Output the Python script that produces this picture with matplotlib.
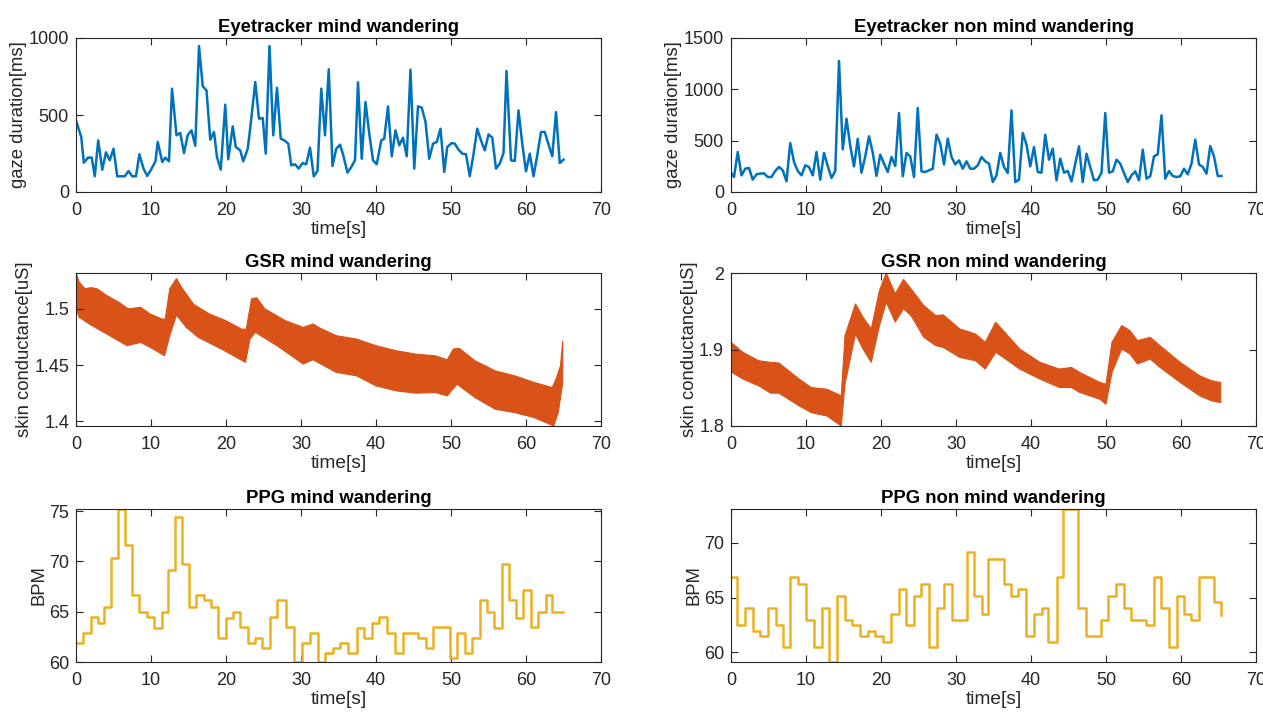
import numpy as np
import matplotlib
matplotlib.use("Agg")
import matplotlib.pyplot as plt
from matplotlib.ticker import FuncFormatter

plt.rcParams['font.family'] = ['Liberation Sans', 'DejaVu Sans']

# MATLAB default colours
blue = '#0072BD'
orange = '#D95319'
yellow = '#EDB120'
axcol = '#262626'

# ---- eyetracker, mind wandering
eye_mw_t = [0, 0.7, 1.05, 1.6, 2.1, 2.5, 2.96, 3.5, 4.0, 4.5,
            5.0, 5.5, 6.0, 6.5, 7.0, 7.5, 8.0, 8.45, 9.0, 9.5,
            10.0, 10.6, 10.9, 11.5, 11.9, 12.4, 12.8, 13.4, 13.9, 14.4,
            14.9, 15.4, 15.9, 16.4, 16.9, 17.4, 17.9, 18.4, 18.8, 19.3,
            19.9, 20.3, 20.9, 21.3, 21.9, 22.3, 22.9, 23.3, 23.9, 24.4,
            24.9, 25.3, 25.8, 26.3, 26.8, 27.3, 27.8, 28.3, 28.7, 29.2,
            29.7, 30.2, 30.7, 31.2, 31.7, 32.2, 32.7, 33.2, 33.7, 34.2,
            34.7, 35.2, 35.6, 36.2, 36.7, 37.2, 37.6, 38.1, 38.6, 39.1,
            39.6, 40.1, 40.7, 41.1, 41.6, 42.1, 42.6, 43.1, 43.6, 44.1,
            44.6, 45.1, 45.6, 46.1, 46.6, 47.1, 47.6, 48.1, 48.6, 49.1,
            49.5, 50.1, 50.5, 51.0, 51.5, 52.0, 52.5, 53.0, 53.5, 54.0,
            54.5, 55.0, 55.5, 56.0, 56.5, 57.0, 57.4, 58.0, 58.5, 59.0,
            59.5, 60.0, 60.5, 61.0, 61.5, 62.0, 62.5, 63.0, 63.5, 64.0,
            64.5, 65.0]
eye_mw = [465, 357, 190, 223, 223, 102, 335, 145, 258, 206,
          281, 102, 102, 102, 136, 102, 102, 245, 152, 104,
          145, 199, 325, 195, 223, 199, 671, 368, 383, 253,
          370, 400, 300, 948, 686, 660, 340, 390, 227, 145,
          567, 212, 426, 292, 270, 199, 281, 444, 714, 476,
          480, 249, 948, 368, 677, 346, 335, 314, 173, 180,
          152, 188, 180, 288, 102, 136, 671, 368, 797, 169,
          281, 307, 245, 126, 162, 206, 712, 216, 584, 379,
          206, 180, 335, 346, 556, 232, 400, 303, 353, 232,
          794, 152, 556, 548, 455, 216, 314, 325, 411, 130,
          292, 318, 314, 275, 249, 245, 102, 245, 411, 335,
          270, 374, 353, 152, 184, 253, 786, 206, 201, 530,
          314, 134, 249, 102, 238, 390, 390, 309, 232, 519,
          188, 210]

# ---- eyetracker, non mind wandering
eye_nmw_t = [0, 0.4, 0.9, 1.4, 1.9, 2.4, 2.9, 3.4, 3.9, 4.4,
             4.9, 5.4, 5.9, 6.4, 6.9, 7.4, 7.9, 8.4, 8.9, 9.4,
             9.9, 10.4, 10.9, 11.4, 11.9, 12.4, 12.9, 13.4, 13.9, 14.4,
             14.9, 15.4, 15.9, 16.4, 16.9, 17.4, 17.9, 18.4, 18.9, 19.4,
             19.9, 20.4, 20.9, 21.4, 21.9, 22.4, 22.9, 23.4, 23.9, 24.4,
             24.9, 25.4, 25.9, 26.4, 26.9, 27.4, 27.9, 28.4, 28.9, 29.4,
             29.9, 30.4, 30.9, 31.4, 31.9, 32.4, 32.9, 33.4, 33.9, 34.4,
             34.9, 35.4, 35.9, 36.4, 36.9, 37.4, 37.9, 38.4, 38.9, 39.4,
             39.9, 40.4, 40.9, 41.4, 41.9, 42.4, 42.9, 43.4, 43.9, 44.4,
             44.9, 45.4, 45.9, 46.4, 46.9, 47.4, 47.9, 48.4, 48.9, 49.4,
             49.9, 50.4, 50.9, 51.4, 51.9, 52.4, 52.9, 53.4, 53.9, 54.4,
             54.9, 55.4, 55.9, 56.4, 56.9, 57.4, 57.9, 58.4, 58.9, 59.4,
             59.9, 60.4, 60.9, 61.4, 61.9, 62.4, 62.9, 63.4, 63.9, 64.4,
             64.9, 65.4]
eye_nmw = [188, 146, 390, 162, 227, 234, 120, 172, 179, 182,
           146, 146, 205, 244, 211, 104, 477, 292, 205, 162,
           260, 244, 162, 390, 120, 380, 253, 136, 205, 1276,
           416, 714, 448, 250, 519, 188, 347, 542, 383, 156,
           364, 276, 195, 341, 253, 769, 153, 380, 347, 146,
           818, 201, 195, 211, 227, 558, 471, 269, 519, 341,
           269, 308, 227, 299, 227, 227, 260, 341, 299, 276,
           97, 162, 380, 244, 185, 795, 97, 120, 575, 461,
           250, 438, 195, 188, 558, 315, 422, 114, 325, 188,
           205, 104, 276, 445, 97, 373, 244, 114, 120, 188,
           769, 188, 201, 315, 276, 185, 97, 162, 201, 114,
           412, 130, 153, 347, 367, 747, 130, 205, 156, 146,
           153, 227, 172, 276, 510, 269, 244, 179, 448, 347,
           156, 156]

# ---- GSR, mind wandering (upper / lower envelope of the fast oscillation)
gsr_mw_up_t = [0, 0.42, 1.2, 2.0, 2.8, 4.1, 5.7, 7.0, 8.6, 9.9, 11.5, 11.9,
               12.5, 13.4, 14.1, 15.7, 17.8, 19.96, 22.1, 22.7, 23.4, 24.1,
               25.2, 27.9, 30.3, 31.6, 32.6, 34.7, 37.4, 40.0, 42.7, 45.3,
               47.9, 49.5, 50.3, 51.1, 53.2, 55.9, 58.5, 61.1, 63.5, 64.0,
               64.6, 64.9]
gsr_mw_up = [1.532, 1.524, 1.518, 1.519, 1.518, 1.512, 1.506, 1.500, 1.5015,
             1.4955, 1.491, 1.491, 1.518, 1.527, 1.519, 1.504, 1.4955, 1.4896,
             1.482, 1.482, 1.509, 1.510, 1.500, 1.4896, 1.4836, 1.4866, 1.4827,
             1.4762, 1.4732, 1.4673, 1.4628, 1.4598, 1.4583, 1.4548, 1.4643,
             1.4649, 1.4539, 1.4449, 1.4405, 1.4345, 1.4301, 1.4375, 1.4494,
             1.4717]
gsr_mw_lo_t = [0, 0.42, 2.0, 4.1, 6.8, 8.6, 9.9, 11.8, 12.5, 13.4, 14.7, 16.3,
               19.4, 22.6, 23.2, 23.9, 26.8, 30.3, 31.6, 34.7, 37.4, 40.0,
               42.7, 45.3, 47.9, 49.5, 50.8, 53.2, 55.9, 58.5, 61.1, 63.7,
               64.3, 64.9]
gsr_mw_lo = [1.500, 1.4926, 1.4857, 1.4777, 1.4673, 1.4702, 1.4658, 1.4583,
             1.4762, 1.4946, 1.4836, 1.4747, 1.4643, 1.4524, 1.4732, 1.4792,
             1.4673, 1.4509, 1.4548, 1.4435, 1.4405, 1.4315, 1.4271, 1.4250,
             1.4256, 1.4226, 1.4330, 1.4211, 1.4107, 1.4077, 1.4033, 1.3958,
             1.4077, 1.4345]

# ---- GSR, non mind wandering
gsr_nmw_t = [0, 1.6, 3.7, 5.3, 6.4, 9.1, 10.7, 12.8, 14.7, 15.2, 16.6, 17.6,
             18.7, 19.8, 20.7, 21.9, 23.0, 24.0, 25.7, 27.3, 28.3, 30.5, 32.6,
             33.9, 35.3, 36.3, 38.5, 41.2, 43.8, 45.4, 46.5, 49.2, 50.0, 50.8,
             52.1, 53.2, 54.2, 55.9, 57.2, 59.9, 62.5, 64.1, 65.3]
gsr_nmw_up = [1.9094, 1.8963, 1.8853, 1.8832, 1.8823, 1.8613, 1.8503, 1.8481,
              1.8394, 1.9182, 1.9597, 1.9422, 1.9269, 1.9772, 2.0, 1.9728,
              1.9917, 1.9794, 1.9575, 1.9444, 1.9453, 1.9269, 1.9203, 1.9094,
              1.9357, 1.9247, 1.9007, 1.8832, 1.8744, 1.8766, 1.8700, 1.8569,
              1.8547, 1.9094, 1.9313, 1.9247, 1.9116, 1.9160, 1.9050, 1.8832,
              1.8656, 1.8591, 1.8569]
gsr_nmw_lo = [1.8709, 1.8613, 1.8525, 1.8429, 1.8429, 1.8263, 1.8175, 1.8131,
              1.8000, 1.8547, 1.9203, 1.9007, 1.8832, 1.9313, 1.9619, 1.9357,
              1.9532, 1.9444, 1.9160, 1.9050, 1.9028, 1.8897, 1.8853, 1.8744,
              1.8963, 1.8897, 1.8744, 1.8613, 1.8503, 1.8503, 1.8438, 1.8350,
              1.8284, 1.8700, 1.9007, 1.8941, 1.8810, 1.8875, 1.8766, 1.8569,
              1.8394, 1.8328, 1.8306]

# ---- PPG heart rate (stairs)
ppg_mw_t = [0, 0.95, 2.0, 2.9, 3.75, 4.65, 5.55, 6.55, 7.45, 8.45,
            9.4, 10.35, 11.4, 12.3, 13.2, 14.15, 15.1, 16.0, 17.0, 17.95,
            18.9, 19.95, 20.9, 21.9, 22.95, 23.9, 24.85, 25.85, 26.8, 28.0,
            29.0, 30.1, 31.15, 32.25, 33.25, 34.2, 35.25, 36.3, 37.4, 38.45,
            39.4, 40.45, 41.45, 42.55, 43.55, 45.55, 46.6, 47.65, 49.8, 50.85,
            51.9, 52.8, 53.85, 54.8, 55.75, 56.8, 57.7, 58.6, 59.65, 60.6,
            61.65, 62.6, 63.5, 64.95]
ppg_mw = [61.9, 62.9, 64.5, 63.9, 65.5, 70.3, 75.2, 71.6, 66.7, 65.0,
          64.5, 63.4, 65.0, 69.1, 74.4, 69.7, 65.5, 66.7, 66.2, 65.5,
          62.4, 64.4, 65.0, 63.5, 61.9, 62.4, 61.4, 64.5, 66.2, 63.5,
          60.0, 61.9, 62.9, 60.0, 60.9, 61.4, 61.9, 60.9, 63.4, 62.4,
          63.9, 64.5, 62.9, 60.9, 62.9, 62.4, 61.4, 63.5, 60.4, 62.9,
          60.9, 62.4, 66.2, 65.0, 63.4, 69.7, 66.2, 64.4, 67.2, 63.5,
          65.0, 66.7, 65.0, 65.0]

ppg_nmw_t = [0, 0.85, 1.87, 2.94, 3.9, 4.92, 5.99, 6.95, 7.91, 8.98,
             10.0, 11.06, 12.13, 13.1, 14.16, 15.23, 16.14, 17.21, 18.28, 19.24,
             20.31, 21.27, 22.34, 23.36, 24.37, 25.39, 26.4, 27.42, 28.43, 29.4,
             31.43, 32.45, 33.4, 34.31, 36.34, 37.3, 38.3, 39.34, 40.35, 41.42,
             42.33, 43.4, 44.25, 46.23, 47.3, 49.28, 50.24, 51.31, 52.38, 53.34,
             55.32, 56.39, 57.35, 58.36, 59.43, 60.4, 61.36, 62.43, 64.4, 65.37]
ppg_nmw = [66.85, 62.5, 64.0, 61.95, 61.5, 64.0, 62.5, 60.5, 66.85, 66.2,
           62.95, 60.5, 64.0, 59.1, 65.1, 62.95, 62.5, 61.5, 61.95, 61.5,
           60.95, 63.5, 65.75, 62.5, 65.1, 66.2, 60.5, 64.0, 66.2, 62.95,
           69.2, 65.1, 63.5, 68.55, 66.2, 65.1, 65.75, 61.5, 63.5, 64.0,
           60.95, 66.85, 73.1, 64.0, 61.5, 62.95, 65.1, 66.2, 64.0, 62.95,
           62.5, 66.85, 64.0, 60.5, 65.1, 63.5, 62.95, 66.85, 64.55, 63.4]

W, H = 1263, 713
fig = plt.figure(figsize=(W / 100, H / 100), dpi=100)

col_x = [76, 731]
row_y = [(38, 192), (273, 426), (509, 662)]
ax_w = 525


def make_ax(col, row):
    top, bot = row_y[row]
    return fig.add_axes([col_x[col] / W, 1 - bot / H, ax_w / W, (bot - top) / H])


def style(ax, title, ylabel, ylim, yticks):
    ax.set_xlim(0, 70)
    ax.set_xticks(range(0, 71, 10))
    ax.set_ylim(*ylim)
    ax.set_yticks(yticks)
    ax.yaxis.set_major_formatter(FuncFormatter(lambda v, p: '%g' % v))
    ax.set_title(title, fontsize=13.3, fontweight='bold', pad=4, color='black')
    ax.set_xlabel('time[s]', fontsize=13.8, labelpad=2, color=axcol)
    ax.set_ylabel(ylabel, fontsize=13.3, labelpad=1, color=axcol)
    ax.tick_params(direction='in', top=True, right=True, length=5, width=0.8,
                   labelsize=13, colors=axcol)
    ax.tick_params(axis='x', pad=7)
    ax.tick_params(axis='y', pad=5)
    for s in ax.spines.values():
        s.set_color(axcol)
        s.set_linewidth(0.8)


ax = make_ax(0, 0)
ax.plot(eye_mw_t, eye_mw, color=blue, lw=1.8)
style(ax, 'Eyetracker mind wandering', 'gaze duration[ms]', (0, 1000), [0, 500, 1000])

ax = make_ax(1, 0)
ax.plot(eye_nmw_t, eye_nmw, color=blue, lw=1.8)
style(ax, 'Eyetracker non mind wandering', 'gaze duration[ms]', (0, 1500), [0, 500, 1000, 1500])

ax = make_ax(0, 1)
ax.fill(np.concatenate([gsr_mw_up_t, gsr_mw_lo_t[::-1]]),
        np.concatenate([gsr_mw_up, gsr_mw_lo[::-1]]),
        color=orange, lw=0.8, edgecolor=orange)
style(ax, 'GSR mind wandering', 'skin conductance[uS]', (1.3958, 1.532), [1.4, 1.45, 1.5])

ax = make_ax(1, 1)
ax.fill(np.concatenate([gsr_nmw_t, gsr_nmw_t[::-1]]),
        np.concatenate([gsr_nmw_up, gsr_nmw_lo[::-1]]),
        color=orange, lw=0.8, edgecolor=orange)
style(ax, 'GSR non mind wandering', 'skin conductance[uS]', (1.8, 2.0), [1.8, 1.9, 2.0])

ax = make_ax(0, 2)
ax.step(ppg_mw_t, ppg_mw, where='post', color=yellow, lw=1.8)
style(ax, 'PPG mind wandering', 'BPM', (60, 75.2), [60, 65, 70, 75])

ax = make_ax(1, 2)
ax.step(ppg_nmw_t, ppg_nmw, where='post', color=yellow, lw=1.8)
style(ax, 'PPG non mind wandering', 'BPM', (59.1, 73.1), [60, 65, 70])

fig.savefig('out.png', dpi=100)
